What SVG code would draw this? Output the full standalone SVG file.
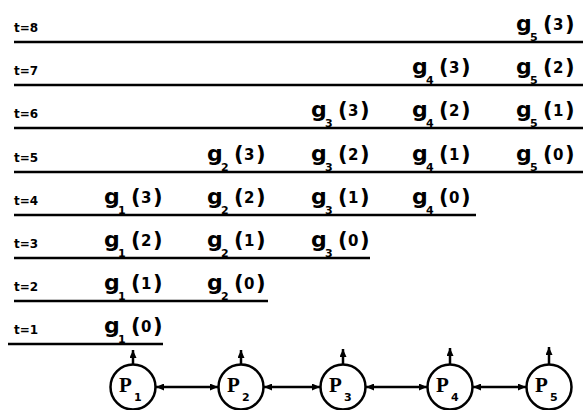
<svg xmlns="http://www.w3.org/2000/svg" width="583" height="410" viewBox="0 0 583 410">
<defs>
<style>
.rule{stroke:#000;stroke-width:2.5;fill:none}
.tl{font-family:"DejaVu Sans",sans-serif;font-weight:bold;font-size:12px;fill:#000}
.gl{font-family:"DejaVu Sans",sans-serif;font-weight:bold;fill:#000}
.gg{font-size:22px}
.gs{font-size:11px}
.gp{font-size:21px}
.gd{font-size:15px}
.node circle{fill:#fff;stroke:#000;stroke-width:2.5}
.pl{font-family:"Liberation Serif",serif;font-weight:bold;font-size:21px;fill:#000}
.ps{font-family:"DejaVu Sans",sans-serif;font-weight:bold;font-size:11px;fill:#000}
.conn{stroke:#000;stroke-width:2.5;fill:none}
</style>
<marker id="ah" viewBox="0 0 8 7" refX="8" refY="3.5" markerWidth="8" markerHeight="7" markerUnits="userSpaceOnUse" orient="auto-start-reverse">
<path d="M0,0 L8,3.5 L0,7 z" fill="#000"/>
</marker>
</defs>
<rect width="583" height="410" fill="#fff"/>

<g id="rules">
<line class="rule" x1="14" y1="42" x2="583" y2="42"/>
<line class="rule" x1="14" y1="85" x2="583" y2="85"/>
<line class="rule" x1="14" y1="128" x2="583" y2="128"/>
<line class="rule" x1="14" y1="172" x2="583" y2="172"/>
<line class="rule" x1="14" y1="215" x2="476" y2="215"/>
<line class="rule" x1="14" y1="258" x2="370" y2="258"/>
<line class="rule" x1="14" y1="301" x2="268" y2="301"/>
<line class="rule" x1="8" y1="344" x2="163" y2="344"/>
</g>

<g id="time-labels">
<text class="tl" x="14" y="32">t=8</text>
<text class="tl" x="14" y="75">t=7</text>
<text class="tl" x="14" y="118">t=6</text>
<text class="tl" x="14" y="162">t=5</text>
<text class="tl" x="14" y="205">t=4</text>
<text class="tl" x="14" y="248">t=3</text>
<text class="tl" x="14" y="291">t=2</text>
<text class="tl" x="14" y="334">t=1</text>
</g>

<g id="g-labels">
<text class="gl"><tspan class="gg" x="516" y="31">g</tspan><tspan class="gs" x="530" y="41">5</tspan><tspan class="gp" x="543" y="31">(</tspan><tspan class="gd" x="553" y="30">3</tspan><tspan class="gp" x="565" y="31">)</tspan></text>
<text class="gl"><tspan class="gg" x="412" y="74">g</tspan><tspan class="gs" x="426" y="84">4</tspan><tspan class="gp" x="439" y="74">(</tspan><tspan class="gd" x="449" y="73">3</tspan><tspan class="gp" x="461" y="74">)</tspan></text>
<text class="gl"><tspan class="gg" x="516" y="74">g</tspan><tspan class="gs" x="530" y="84">5</tspan><tspan class="gp" x="543" y="74">(</tspan><tspan class="gd" x="553" y="73">2</tspan><tspan class="gp" x="565" y="74">)</tspan></text>
<text class="gl"><tspan class="gg" x="311" y="117">g</tspan><tspan class="gs" x="325" y="127">3</tspan><tspan class="gp" x="338" y="117">(</tspan><tspan class="gd" x="348" y="116">3</tspan><tspan class="gp" x="360" y="117">)</tspan></text>
<text class="gl"><tspan class="gg" x="412" y="117">g</tspan><tspan class="gs" x="426" y="127">4</tspan><tspan class="gp" x="439" y="117">(</tspan><tspan class="gd" x="449" y="116">2</tspan><tspan class="gp" x="461" y="117">)</tspan></text>
<text class="gl"><tspan class="gg" x="516" y="117">g</tspan><tspan class="gs" x="530" y="127">5</tspan><tspan class="gp" x="543" y="117">(</tspan><tspan class="gd" x="553" y="116">1</tspan><tspan class="gp" x="565" y="117">)</tspan></text>
<text class="gl"><tspan class="gg" x="207" y="161">g</tspan><tspan class="gs" x="221" y="171">2</tspan><tspan class="gp" x="234" y="161">(</tspan><tspan class="gd" x="244" y="160">3</tspan><tspan class="gp" x="256" y="161">)</tspan></text>
<text class="gl"><tspan class="gg" x="311" y="161">g</tspan><tspan class="gs" x="325" y="171">3</tspan><tspan class="gp" x="338" y="161">(</tspan><tspan class="gd" x="348" y="160">2</tspan><tspan class="gp" x="360" y="161">)</tspan></text>
<text class="gl"><tspan class="gg" x="412" y="161">g</tspan><tspan class="gs" x="426" y="171">4</tspan><tspan class="gp" x="439" y="161">(</tspan><tspan class="gd" x="449" y="160">1</tspan><tspan class="gp" x="461" y="161">)</tspan></text>
<text class="gl"><tspan class="gg" x="516" y="161">g</tspan><tspan class="gs" x="530" y="171">5</tspan><tspan class="gp" x="543" y="161">(</tspan><tspan class="gd" x="553" y="160">0</tspan><tspan class="gp" x="565" y="161">)</tspan></text>
<text class="gl"><tspan class="gg" x="104" y="204">g</tspan><tspan class="gs" x="118" y="214">1</tspan><tspan class="gp" x="131" y="204">(</tspan><tspan class="gd" x="141" y="203">3</tspan><tspan class="gp" x="153" y="204">)</tspan></text>
<text class="gl"><tspan class="gg" x="207" y="204">g</tspan><tspan class="gs" x="221" y="214">2</tspan><tspan class="gp" x="234" y="204">(</tspan><tspan class="gd" x="244" y="203">2</tspan><tspan class="gp" x="256" y="204">)</tspan></text>
<text class="gl"><tspan class="gg" x="311" y="204">g</tspan><tspan class="gs" x="325" y="214">3</tspan><tspan class="gp" x="338" y="204">(</tspan><tspan class="gd" x="348" y="203">1</tspan><tspan class="gp" x="360" y="204">)</tspan></text>
<text class="gl"><tspan class="gg" x="412" y="204">g</tspan><tspan class="gs" x="426" y="214">4</tspan><tspan class="gp" x="439" y="204">(</tspan><tspan class="gd" x="449" y="203">0</tspan><tspan class="gp" x="461" y="204">)</tspan></text>
<text class="gl"><tspan class="gg" x="104" y="247">g</tspan><tspan class="gs" x="118" y="257">1</tspan><tspan class="gp" x="131" y="247">(</tspan><tspan class="gd" x="141" y="246">2</tspan><tspan class="gp" x="153" y="247">)</tspan></text>
<text class="gl"><tspan class="gg" x="207" y="247">g</tspan><tspan class="gs" x="221" y="257">2</tspan><tspan class="gp" x="234" y="247">(</tspan><tspan class="gd" x="244" y="246">1</tspan><tspan class="gp" x="256" y="247">)</tspan></text>
<text class="gl"><tspan class="gg" x="311" y="247">g</tspan><tspan class="gs" x="325" y="257">3</tspan><tspan class="gp" x="338" y="247">(</tspan><tspan class="gd" x="348" y="246">0</tspan><tspan class="gp" x="360" y="247">)</tspan></text>
<text class="gl"><tspan class="gg" x="104" y="290">g</tspan><tspan class="gs" x="118" y="300">1</tspan><tspan class="gp" x="131" y="290">(</tspan><tspan class="gd" x="141" y="289">1</tspan><tspan class="gp" x="153" y="290">)</tspan></text>
<text class="gl"><tspan class="gg" x="207" y="290">g</tspan><tspan class="gs" x="221" y="300">2</tspan><tspan class="gp" x="234" y="290">(</tspan><tspan class="gd" x="244" y="289">0</tspan><tspan class="gp" x="256" y="290">)</tspan></text>
<text class="gl"><tspan class="gg" x="104" y="333">g</tspan><tspan class="gs" x="118" y="343">1</tspan><tspan class="gp" x="131" y="333">(</tspan><tspan class="gd" x="141" y="332">0</tspan><tspan class="gp" x="153" y="333">)</tspan></text>
</g>

<g id="connectors">
<line class="conn" x1="133" y1="364.5" x2="133" y2="350" marker-end="url(#ah)"/>
<line class="conn" x1="241" y1="364.5" x2="241" y2="350" marker-end="url(#ah)"/>
<line class="conn" x1="343" y1="364.5" x2="343" y2="349" marker-end="url(#ah)"/>
<line class="conn" x1="450" y1="364.5" x2="450" y2="348" marker-end="url(#ah)"/>
<line class="conn" x1="549" y1="364.5" x2="549" y2="347" marker-end="url(#ah)"/>
<line class="conn" x1="156" y1="387" x2="218" y2="387" marker-start="url(#ah)" marker-end="url(#ah)"/>
<line class="conn" x1="264" y1="387" x2="320" y2="387" marker-start="url(#ah)" marker-end="url(#ah)"/>
<line class="conn" x1="366" y1="387" x2="427" y2="387" marker-start="url(#ah)" marker-end="url(#ah)"/>
<line class="conn" x1="473" y1="387" x2="526" y2="387" marker-start="url(#ah)" marker-end="url(#ah)"/>
</g>

<g id="P1" class="node"><circle cx="133" cy="387" r="22.5"/><text class="pl" x="119" y="392">P</text><text class="ps" x="134" y="401">1</text></g>
<g id="P2" class="node"><circle cx="241" cy="387" r="22.5"/><text class="pl" x="227" y="392">P</text><text class="ps" x="242" y="401">2</text></g>
<g id="P3" class="node"><circle cx="343" cy="387" r="22.5"/><text class="pl" x="329" y="392">P</text><text class="ps" x="344" y="401">3</text></g>
<g id="P4" class="node"><circle cx="450" cy="387" r="22.5"/><text class="pl" x="436" y="392">P</text><text class="ps" x="451" y="401">4</text></g>
<g id="P5" class="node"><circle cx="549" cy="387" r="22.5"/><text class="pl" x="535" y="392">P</text><text class="ps" x="550" y="401">5</text></g>
</svg>
